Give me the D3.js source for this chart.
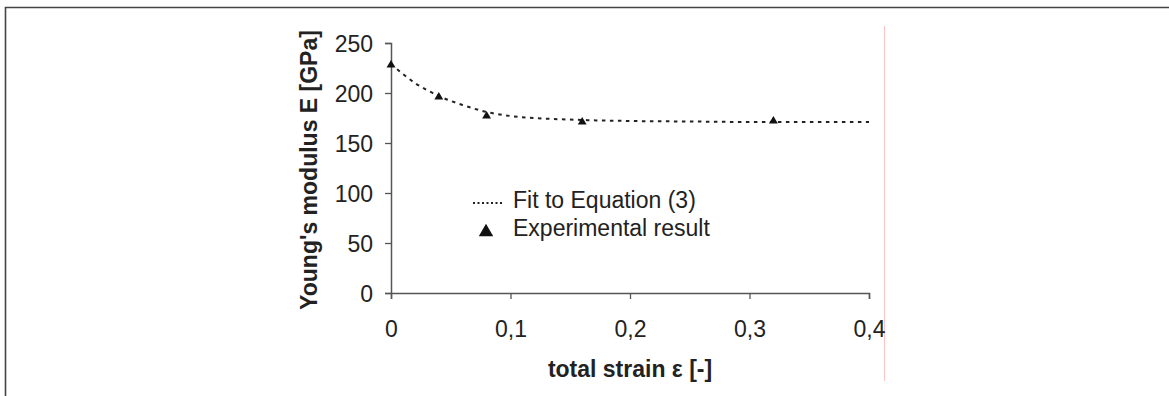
<!DOCTYPE html>
<html>
<head>
<meta charset="utf-8">
<script src="https://cdn.jsdelivr.net/npm/d3@7"></script>
<style>
  body { margin: 0; background: #fff; }
  svg { display: block; font-family: "Liberation Sans", Arial, sans-serif; }
</style>
</head>
<body>
<script>
// measured points (total strain, Young's modulus in GPa)
const strain = [0, 0.04, 0.08, 0.16, 0.32];
const modulus = [228, 196, 177, 171, 172];

// fit curve
const fitStrain = [0, 0.01, 0.02, 0.03, 0.04, 0.06, 0.08, 0.1, 0.12, 0.16, 0.2, 0.25, 0.3, 0.35, 0.4];
const fitModulus = [229, 219, 210, 203, 197, 188, 181, 177, 175, 173, 172, 171.5, 171, 171, 171];

const xTicks = [0, 0.1, 0.2, 0.3, 0.4];
const yTicks = [0, 50, 100, 150, 200, 250];
const legendLabels = ["Fit to Equation (3)", "Experimental result"];

const width = 1169, height = 396;
const svg = d3.select("body").append("svg")
  .attr("width", width)
  .attr("height", height);

// outer frame (right and bottom edges are cut off)
svg.append("path")
  .attr("d", `M5.5,${height + 5}V7.5H${width + 5}`)
  .attr("fill", "none")
  .attr("stroke", "#444")
  .attr("stroke-width", 1.6);

// thin red guide line on the right
svg.append("line")
  .attr("x1", 884.5).attr("x2", 884.5)
  .attr("y1", 26).attr("y2", 381)
  .attr("stroke", "#ffc4c4")
  .attr("stroke-width", 1);

const x = d3.scaleLinear().domain([0, 0.4]).range([391, 869]);
const y = d3.scaleLinear().domain([0, 250]).range([293, 43]);

const fmt = d => String(d).replace(".", ",");

const xAxis = svg.append("g")
  .attr("transform", `translate(0,${y(0)})`)
  .call(d3.axisBottom(x).tickValues(xTicks).tickFormat(fmt).tickSizeOuter(0).tickSize(6).tickPadding(22));

const yAxis = svg.append("g")
  .attr("transform", `translate(${x(0)},0)`)
  .call(d3.axisLeft(y).tickValues(yTicks).tickSizeOuter(0).tickSize(6).tickPadding(12));

[xAxis, yAxis].forEach(g => {
  g.select(".domain").attr("stroke", "#555").attr("stroke-width", 1.5);
  g.selectAll(".tick line").attr("stroke", "#555").attr("stroke-width", 1.3);
  g.selectAll(".tick text")
    .attr("fill", "#222")
    .attr("font-size", 23)
    .attr("font-family", "Liberation Sans, Arial, sans-serif");
});
yAxis.selectAll(".tick text").attr("dy", "0.36em");

// axis titles
svg.append("text")
  .attr("x", 630).attr("y", 377)
  .attr("text-anchor", "middle")
  .attr("font-size", 23)
  .attr("font-weight", "bold")
  .attr("fill", "#222")
  .text("total strain ε [-]");

svg.append("text")
  .attr("transform", `translate(317,170) rotate(-90)`)
  .attr("text-anchor", "middle")
  .attr("font-size", 23)
  .attr("font-weight", "bold")
  .attr("fill", "#222")
  .text("Young's modulus E [GPa]");

// fit curve
const fit = fitStrain.map((s, i) => [s, fitModulus[i]]);
svg.append("path")
  .datum(fit)
  .attr("fill", "none")
  .attr("stroke", "#222")
  .attr("stroke-width", 2)
  .attr("stroke-dasharray", "3.5,4.5")
  .attr("d", d3.line().x(d => x(d[0])).y(d => y(d[1])).curve(d3.curveMonotoneX));

// measured points
const tri = d3.symbol().type(d3.symbolTriangle);
svg.append("g")
  .selectAll("path")
  .data(strain.map((s, i) => [s, modulus[i]]))
  .join("path")
  .attr("transform", d => `translate(${x(d[0])},${y(d[1])})`)
  .attr("d", tri.size(34))
  .attr("fill", "#111");

// legend
const legend = svg.append("g");
legend.append("line")
  .attr("x1", 473).attr("x2", 502)
  .attr("y1", 203).attr("y2", 203)
  .attr("stroke", "#222")
  .attr("stroke-width", 2)
  .attr("stroke-dasharray", "2,2.5");
legend.append("path")
  .attr("transform", "translate(486,232)")
  .attr("d", d3.symbol().type(d3.symbolTriangle).size(90)())
  .attr("fill", "#111");
legend.selectAll("text")
  .data(legendLabels)
  .join("text")
  .attr("x", 513)
  .attr("y", (d, i) => 208 + i * 28)
  .attr("font-size", 23)
  .attr("fill", "#222")
  .text(d => d);
</script>
</body>
</html>
